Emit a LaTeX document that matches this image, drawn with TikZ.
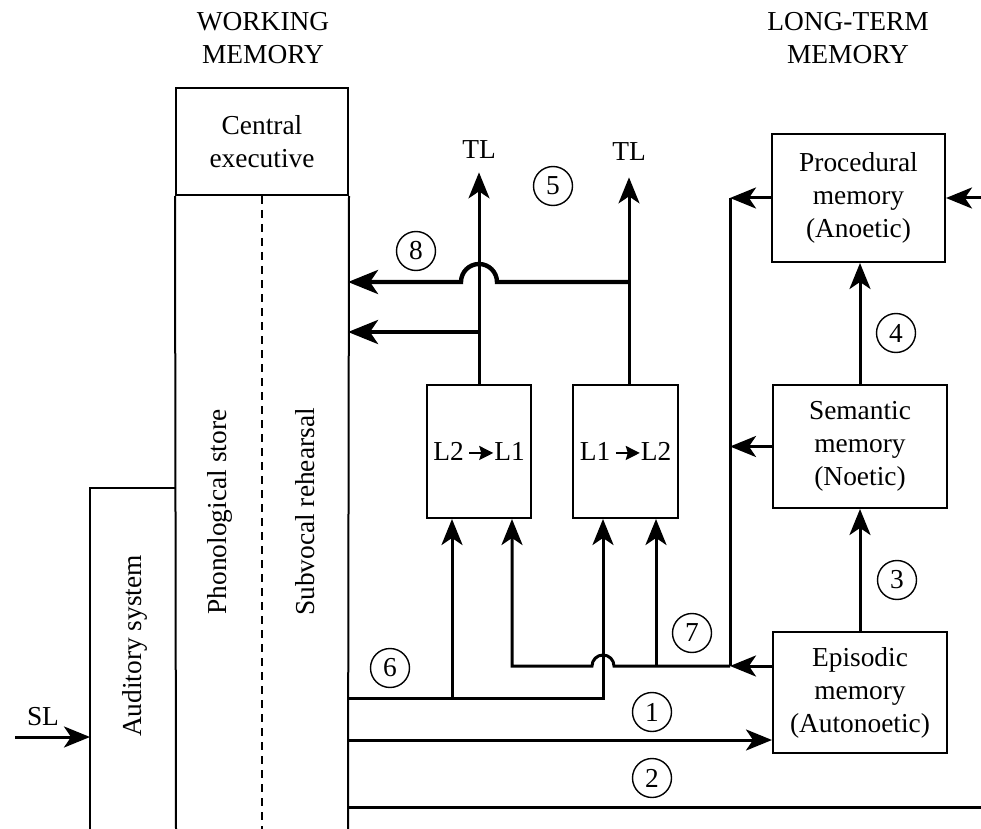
\documentclass[tikz,border=0pt]{standalone}
\usepackage{fontspec}
\setmainfont{Liberation Serif}
\usetikzlibrary{arrows.meta}
% small filled arrow used inside the translation boxes
\newcommand{\transarrow}{\tikz[baseline=0pt]{\draw[line width=1pt,-{Stealth[length=7pt,width=7pt,inset=1pt]}] (0pt,3.8pt) -- (12pt,3.8pt);}}
\begin{document}
\begin{tikzpicture}[x=0.5pt,y=-0.5pt,
  every node/.style={font=\fontsize{13.7}{16.5}\selectfont},
  box/.style={draw,line width=1pt,inner sep=0pt,align=center},
  lbl/.style={inner sep=0pt,align=center},
  num/.style={draw,circle,line width=0.7pt,minimum size=19.5pt,inner sep=0pt},
  conn/.style={line width=1.5pt},
  tip/.style={-{Stealth[length=13pt,width=10.5pt,inset=3.5pt]}},
  arr/.style={conn,tip},
  heavy/.style={line width=2.2pt,-{Stealth[length=15pt,width=12pt,inset=4pt]}},
  frame/.style={line width=1pt},
]
\useasboundingbox (0,0) rectangle (981,829);

% ---------- headings ----------
\node[lbl] (wmhead) at (263,38.5) {WORKING\\MEMORY};
\node[lbl] (ltmhead) at (848,38.5) {LONG-TERM\\MEMORY};

% ---------- working memory ----------
\node[box,minimum width=86pt,minimum height=53.5pt] (ce) at (262,141.5) {Central\\executive};
\coordinate (wmbl) at (176,829);
\coordinate (wmbr) at (348,829);
\coordinate (wmbm) at (262,829);
\draw[frame] (ce.south west) -- (wmbl);
\draw[frame] (ce.south east) -- (wmbr);
\draw[line width=0.7pt,dashed,dash pattern=on 4pt off 3pt] (ce.south) -- (wmbm);
\node[lbl,rotate=90] (phon) at (220,512) {Phonological store};
\node[lbl,rotate=90] (subv) at (305,512) {Subvocal rehearsal};

% ---------- auditory system ----------
\coordinate (audtl) at (90,488);
\coordinate (audtr) at (176,488);
\coordinate (audbl) at (90,829);
\draw[frame] (audbl) -- (audtl) -- (audtr);
\node[lbl,rotate=90] (aud) at (135,646) {Auditory system};
\node[lbl] (sl) at (43,717) {SL};
\coordinate (slstart) at (15,737);
\coordinate (audin) at (90,737);
\draw[arr] (slstart) -- (audin);

% ---------- translation boxes ----------
\node[box,minimum width=52pt,minimum height=66.5pt] (l21) at (479,451.5) {L2\,\transarrow L1};
\node[box,minimum width=52.5pt,minimum height=66.5pt] (l12) at (625.5,451.5) {L1\,\transarrow L2};

\node[lbl] (tla) at (479,150) {TL};
\node[lbl] (tlb) at (629,152) {TL};
\draw[arr,shorten >=6.5pt] (l21.north) -- (tla.south);
\draw[arr,shorten >=8pt] (l12.north -| tlb) -- (tlb.south);

% connections back to working memory
\coordinate (j8) at (629,282);
\coordinate (wm8) at (348,282);
\coordinate (j9) at (479,332);
\coordinate (wm9) at (348,332);
\draw[heavy] (j8) -- (497,282) arc[start angle=0,end angle=-180,radius=18] -- (wm8);
\draw[heavy] (j9) -- (wm9);

% ---------- long-term memory ----------
\node[box,minimum width=86.5pt,minimum height=64pt] (proc) at (858.5,198) {Procedural\\memory\\(Anoetic)};
\node[box,minimum width=87pt,minimum height=61.5pt] (sem) at (860,446.5) {Semantic\\memory\\(Noetic)};
\node[box,minimum width=87pt,minimum height=60.5pt] (epi) at (860,692.5) {Episodic\\memory\\(Autonoetic)};

\draw[arr] (epi.north) -- (epi.north |- sem.south);
\draw[arr] (sem.north) -- (sem.north |- proc.south);
\coordinate (procin) at (981,198);
\draw[arr] (procin) -- (proc.east);

% collector line on the left of long-term memory
\coordinate (j7) at (730,666);
\coordinate (jtop) at (730,198);
\draw[conn] (j7) -- (jtop);
\draw[arr] (proc.west) -- (jtop);
\draw[arr] (sem.west) -- (sem.west -| j7);
\draw[arr] (epi.west |- j7) -- (j7);

% route 7: from long-term memory into the translation boxes
\coordinate (b7a) at (512,666);
\coordinate (b7b) at (656,666);
\draw[arr] (j7) -- (614,666) arc[start angle=0,end angle=-180,radius=11] -- (b7a) -- (b7a |- l21.south);
\draw[arr] (b7b) -- (b7b |- l12.south);

% route 6: from working memory into the translation boxes
\coordinate (wm6) at (348,698);
\coordinate (b6a) at (452,698);
\coordinate (b6b) at (603,698);
\draw[arr] (wm6) -- (b6b) -- (b6b |- l12.south);
\draw[arr] (b6a) -- (b6a |- l21.south);

% routes 1 and 2
\coordinate (wm1) at (348,740);
\draw[arr] (wm1) -- (epi.west |- wm1);
\coordinate (wm2) at (348,807);
\coordinate (out2) at (981,807);
\draw[conn] (wm2) -- (out2);

% ---------- route numbers ----------
\node[num] (n1) at (652,712) {1};
\node[num] (n2) at (652,778) {2};
\node[num] (n3) at (897,580) {3};
\node[num] (n4) at (896,333) {4};
\node[num] (n5) at (553,186) {5};
\node[num] (n6) at (390,668) {6};
\node[num] (n7) at (692,633) {7};
\node[num] (n8) at (416,251) {8};
\end{tikzpicture}
\end{document}
